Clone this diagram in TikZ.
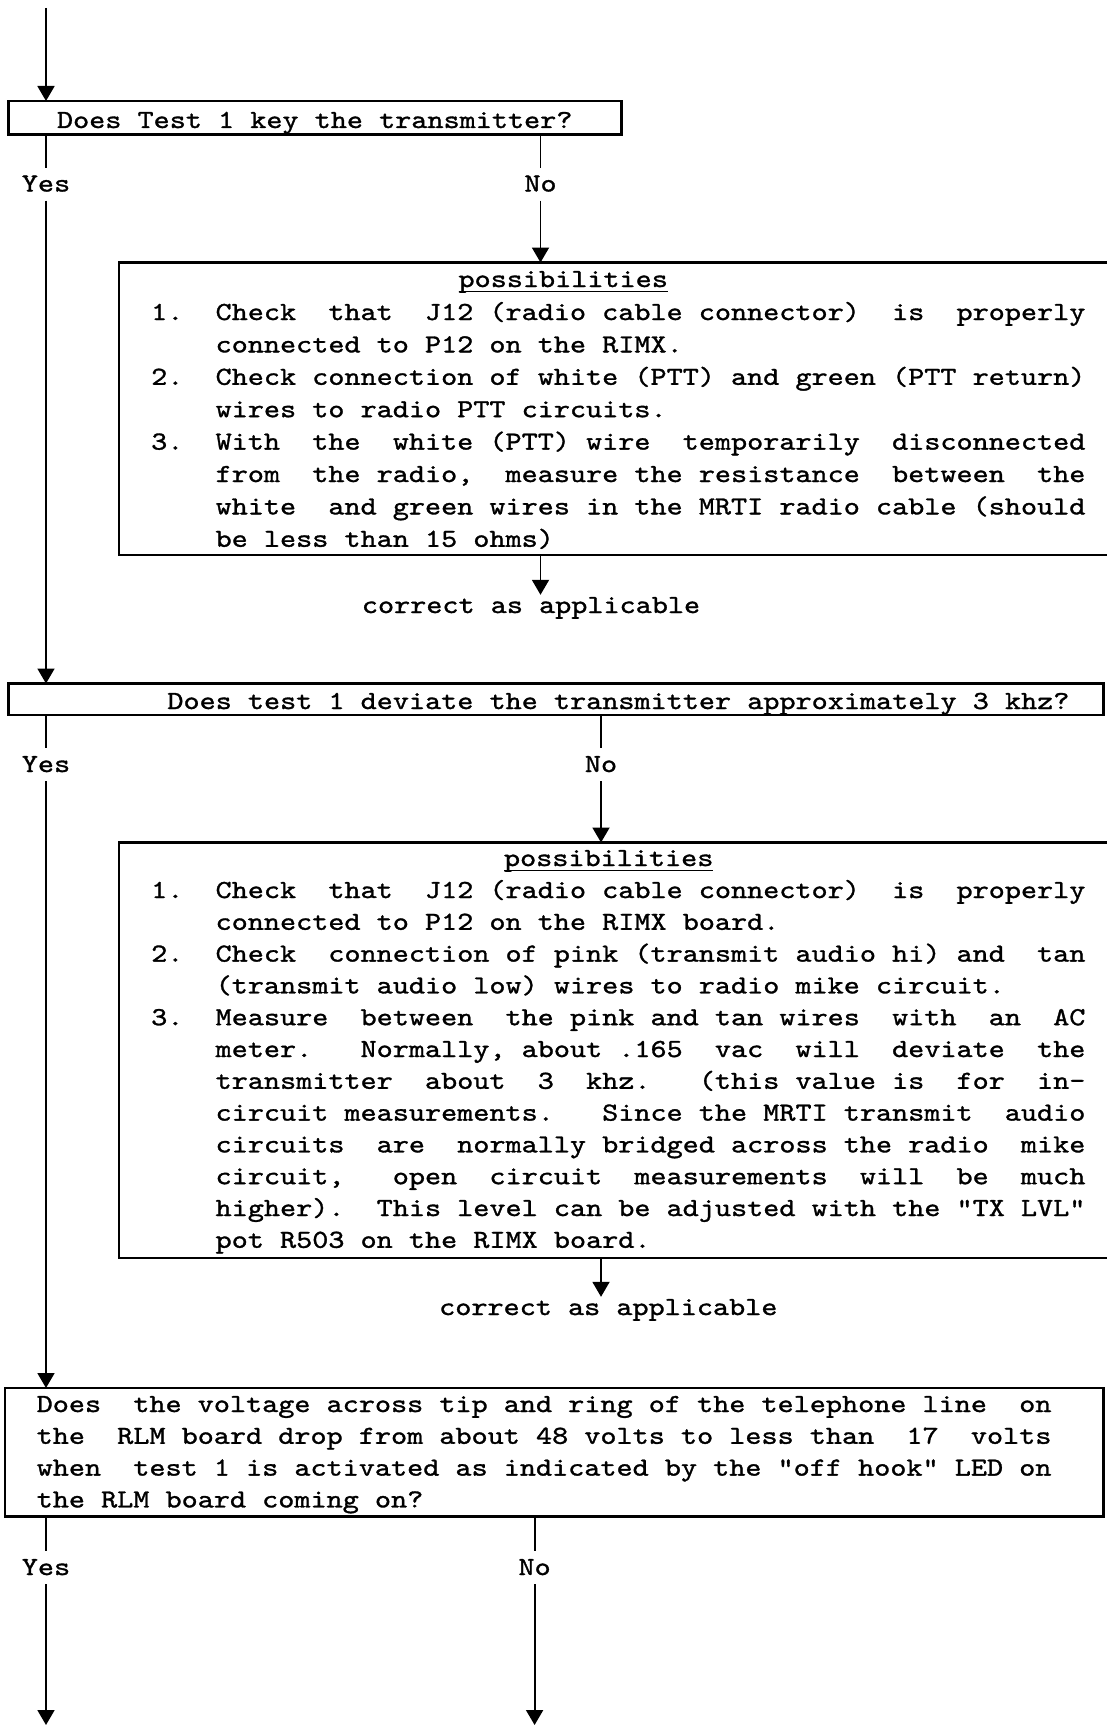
\documentclass[tikz,border=0pt]{standalone}
\usepackage{fontspec}
\usetikzlibrary{arrows.meta}
% typewriter face for every text of the chart (serif mono, widened to a 16.1pt pitch)
\newfontfamily\tw[Ligatures=TeXOff,FakeStretch=1.18,FakeBold=1.2]{lmmono10-regular.otf}
\newcommand\twsize{\tw\fontsize{26}{32}\selectfont\frenchspacing}

\begin{document}
\begin{tikzpicture}[x=1pt,y=-1pt,
  frame/.style={draw,line width=2.2pt,inner sep=0pt,outer sep=0pt,anchor=north west},
  conn/.style={line width=1.9pt},
  arr/.style={conn,-{Triangle[length=15pt,width=17pt]}},
  txt/.style={font=\twsize,inner sep=0pt,outer sep=0pt,anchor=base west},
  answer/.style={font=\twsize,inner sep=0pt,text height=15pt,text depth=0pt,outer ysep=9pt,anchor=base},
  note/.style={font=\twsize,inner sep=0pt,text height=18pt,text depth=0pt,anchor=base west},
  uline/.style={line width=1.4pt}]

\fill[white] (0,0) rectangle (1107,1726);
\useasboundingbox (0,0) rectangle (1107,1726);

% decision and hint boxes
\node[frame,minimum width=613pt,minimum height=33.5pt] (q1) at (8.5,101) {};
\node[frame,minimum width=991pt,minimum height=292.5pt] (p1) at (119,262.5) {};
\node[frame,minimum width=1095pt,minimum height=31.5pt] (q2) at (8.5,683.5) {};
\node[frame,minimum width=991pt,minimum height=415.5pt] (p2) at (119,842.5) {};
\node[frame,minimum width=1098.5pt,minimum height=128.5pt] (q3) at (5,1388) {};

% questions
\node[txt] (t1) at (57,128) {Does Test 1 key the transmitter?};
\node[txt] (t2) at (167.4,709) {Does test 1 deviate the transmitter approximately 3 khz?};
\foreach \row [count=\i] in {
  {Does~ the voltage across tip and ring of the telephone line~ on},
  {the~ RLM board drop from about 48 volts to less than~ 17~ volts},
  {when~ test 1 is activated as indicated by the "off hook" LED on},
  {the RLM board coming on?}}
  \node[txt] (t3-\i) at (36.7,{1412+31.8*(\i-1)}) {\row};

% first list of possibilities
\node[txt] (h1) at (458.5,287) {possibilities};
\draw[uline] ([yshift=-4.5pt]h1.base west) -- ([yshift=-4.5pt]h1.base east);
\foreach \row [count=\i] in {
  {1.~ Check~ that~ J12 (radio cable connector)~ is~ properly},
  {~~~~connected to P12 on the RIMX.},
  {2.~ Check connection of white (PTT) and green (PTT return)},
  {~~~~wires to radio PTT circuits.},
  {3.~ With~ the~ white (PTT) wire~ temporarily~ disconnected},
  {~~~~from~ the radio,~ measure the resistance~ between~ the},
  {~~~~white~ and green wires in the MRTI radio cable (should},
  {~~~~be less than 15 ohms)}}
  \node[txt] (pa-\i) at (151.2,{320+32.4*(\i-1)}) {\row};

% second list of possibilities
\node[txt] (h2) at (504,866) {possibilities};
\draw[uline] ([yshift=-4.5pt]h2.base west) -- ([yshift=-4.5pt]h2.base east);
\foreach \row [count=\i] in {
  {1.~ Check~ that~ J12 (radio cable connector)~ is~ properly},
  {~~~~connected to P12 on the RIMX board.},
  {2.~ Check~ connection of pink (transmit audio hi) and~ tan},
  {~~~~(transmit audio low) wires to radio mike circuit.},
  {3.~ Measure~ between~ the pink and tan wires~ with~ an~ AC},
  {~~~~meter.~~ Normally, about .165~ vac~ will~ deviate~ the},
  {~~~~transmitter~ about~ 3~ khz.~~ (this value is~ for~ in-},
  {~~~~circuit measurements.~~ Since the MRTI transmit~ audio},
  {~~~~circuits~ are~ normally bridged across the radio~ mike},
  {~~~~circuit,~~ open~ circuit~ measurements~ will~ be~ much},
  {~~~~higher).~ This level can be adjusted with the "TX LVL"},
  {~~~~pot R503 on the RIMX board.}}
  \node[txt] (pb-\i) at (151.2,{898+31.8*(\i-1)}) {\row};

\node[note] (c1) at (361.7,613) {correct as applicable};
\node[note] (c2) at (439,1315) {correct as applicable};

% answer labels
\node[answer] (y1) at (46,191.5) {Yes};
\node[answer] (n1) at (540.5,191.5) {No};
\node[answer] (y2) at (46,772) {Yes};
\node[answer] (n2) at (601,772) {No};
\node[answer] (y3) at (46,1575) {Yes};
\node[answer] (n3) at (534.6,1575) {No};

% flow lines
\coordinate (start) at (46,8);
\coordinate (end1) at (46,1725);
\coordinate (end2) at (534.6,1725);

\draw[arr] (start) -- (q1.north -| start);
\draw[conn] (q1.south -| y1) -- (y1.north);
\draw[arr] (y1.south) -- (q2.north -| y1);
\draw[conn] (q1.south -| n1) -- (n1.north);
\draw[arr] (n1.south) -- (p1.north -| n1);
\draw[arr] (p1.south -| n1) -- (c1.north -| n1);

\draw[conn] (q2.south -| y2) -- (y2.north);
\draw[arr] (y2.south) -- (q3.north -| y2);
\draw[conn] (q2.south -| n2) -- (n2.north);
\draw[arr] (n2.south) -- (p2.north -| n2);
\draw[arr] (p2.south -| n2) -- (c2.north -| n2);

\draw[conn] (q3.south -| y3) -- (y3.north);
\draw[arr] (y3.south) -- (end1);
\draw[conn] (q3.south -| n3) -- (n3.north);
\draw[arr] (n3.south) -- (end2);
\end{tikzpicture}
\end{document}
